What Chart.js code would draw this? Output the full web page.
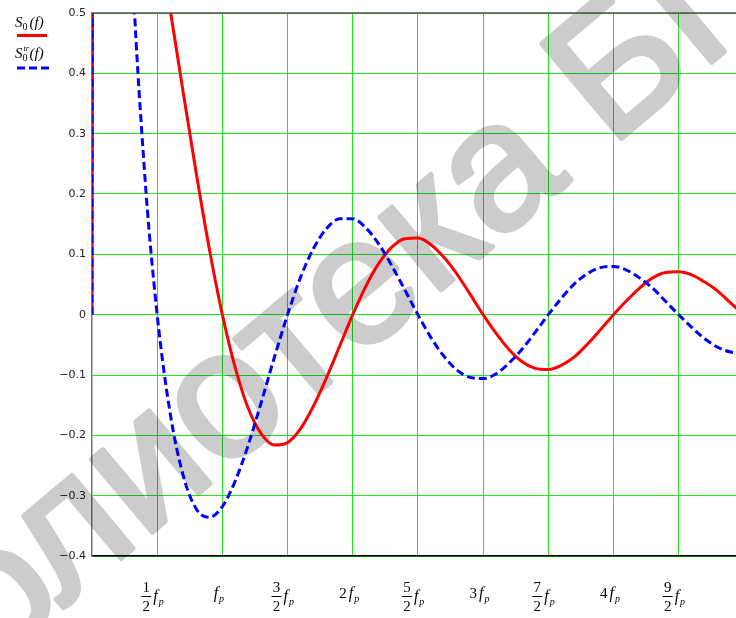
<!DOCTYPE html>
<html>
<head>
<meta charset="utf-8">
<script src="https://cdn.jsdelivr.net/npm/chart.js@4"></script>
<style>
  html, body { margin: 0; padding: 0; background: #fff; overflow: hidden; }
  canvas { display: block; }
</style>
</head>
<body>
<canvas id="mycanvas" width="736" height="618"></canvas>
<script>
// frequency in units of fp
var freq = [0, 0.01, 0.1, 0.2, 0.3, 0.4, 0.5, 0.6, 0.7, 0.8, 0.9,
  1.0, 1.1, 1.2, 1.3, 1.4, 1.5, 1.6, 1.7, 1.8, 1.9,
  2.0, 2.1, 2.2, 2.3, 2.4, 2.5, 2.6, 2.7, 2.8, 2.9,
  3.0, 3.1, 3.2, 3.3, 3.4, 3.5, 3.6, 3.7, 3.8, 3.9,
  4.0, 4.1, 4.2, 4.3, 4.4, 4.5, 4.6, 4.7, 4.8, 4.9, 5.0];

// S0(f), red solid
var s0 = [0, 1.0, 0.984, 0.935, 0.858, 0.757, 0.637, 0.505, 0.368, 0.234, 0.109,
  0, -0.089, -0.156, -0.198, -0.216, -0.212, -0.189, -0.151, -0.104, -0.052,
  0, 0.047, 0.085, 0.112, 0.126, 0.127, 0.116, 0.095, 0.067, 0.034,
  0, -0.031, -0.058, -0.078, -0.089, -0.091, -0.084, -0.070, -0.049, -0.025,
  0, 0.023, 0.044, 0.061, 0.070, 0.071, 0.066, 0.054, 0.039, 0.019, 0];

// S0tr(f), blue dashed
var s0tr = [0, 30, 3.03, 1.288, 0.624, 0.246, 0, -0.164, -0.267, -0.322, -0.336,
  -0.318, -0.275, -0.215, -0.144, -0.070, 0, 0.062, 0.110, 0.143, 0.159,
  0.159, 0.144, 0.117, 0.081, 0.041, 0, -0.038, -0.069, -0.092, -0.104,
  -0.106, -0.098, -0.080, -0.057, -0.029, 0, 0.027, 0.051, 0.068, 0.078,
  0.080, 0.074, 0.061, 0.044, 0.022, 0, -0.021, -0.040, -0.054, -0.062, -0.064];

// x tick labels: numerator / denominator / integer coefficient, then f_p
var xTickPos = [0.5, 1, 1.5, 2, 2.5, 3, 3.5, 4, 4.5];
var xTickNum = ['1', '', '3', '', '5', '', '7', '', '9'];
var xTickDen = ['2', '', '2', '', '2', '', '2', '', '2'];
var xTickCoef = ['', '', '', '2', '', '3', '', '4', ''];

var gridGreen = '#1ee61e';

function fpWidth(ctx) {
  ctx.font = 'italic 16px "Liberation Serif"';
  var w = ctx.measureText('f').width;
  return w + 7;
}

function drawFp(ctx, x, y) {
  ctx.textAlign = 'left';
  ctx.font = 'italic 16px "Liberation Serif"';
  ctx.fillText('f', x, y);
  var w = ctx.measureText('f').width;
  ctx.font = 'italic 10px "Liberation Serif"';
  ctx.fillText('p', x + w + 1, y + 4);
}

function drawS(ctx, x, y, sup) {
  ctx.fillStyle = '#000';
  ctx.textAlign = 'left';
  ctx.font = 'italic 15px "Liberation Serif"';
  ctx.fillText('S', x, y);
  var cx = x + ctx.measureText('S').width;
  ctx.font = '10px "Liberation Serif"';
  ctx.fillText('0', cx, y + 3);
  if (sup) {
    ctx.font = 'italic 8px "Liberation Serif"';
    ctx.fillText(sup, cx + 1, y - 7);
  }
  cx += 7;
  ctx.font = 'italic 15px "Liberation Serif"';
  ctx.fillText('(f)', cx, y);
}

var decor = {
  id: 'decor',
  beforeDatasetsDraw: function(chart) {
    var ctx = chart.ctx;
    // watermark, drawn solid off screen then laid over with alpha
    var off = document.createElement('canvas');
    off.width = chart.width;
    off.height = chart.height;
    var o = off.getContext('2d');
    o.font = '180px "Liberation Sans"';
    o.fillStyle = '#000';
    o.strokeStyle = '#000';
    o.lineWidth = 5;
    o.lineJoin = 'round';
    o.translate(610, 148);
    o.rotate(-40 * Math.PI / 180);
    var txt = 'Библиотека БГУИР';
    var dx = -o.measureText('Библиотека ').width;
    o.fillText(txt, dx, 0);
    o.strokeText(txt, dx, 0);
    ctx.save();
    ctx.globalAlpha = 0.2;
    ctx.drawImage(off, 0, 0);
    ctx.restore();
  },
  afterDraw: function(chart) {
    var ctx = chart.ctx;
    var area = chart.chartArea;
    var xs = chart.scales.x;
    ctx.save();
    // top frame line
    ctx.strokeStyle = '#555';
    ctx.lineWidth = 1.5;
    ctx.beginPath();
    ctx.moveTo(area.left, area.top);
    ctx.lineTo(area.right, area.top);
    ctx.stroke();

    // x labels
    ctx.fillStyle = '#000';
    ctx.textBaseline = 'alphabetic';
    for (var i = 0; i < xTickPos.length; i++) {
      var px = xs.getPixelForValue(xTickPos[i]);
      if (xTickNum[i]) {
        var fx = px - 11;
        ctx.font = '15px "Liberation Serif"';
        ctx.textAlign = 'center';
        ctx.fillText(xTickNum[i], fx, 592);
        ctx.fillText(xTickDen[i], fx, 611);
        ctx.strokeStyle = '#000';
        ctx.lineWidth = 1;
        ctx.beginPath();
        ctx.moveTo(fx - 5, 596.5);
        ctx.lineTo(fx + 5, 596.5);
        ctx.stroke();
        drawFp(ctx, px - 4, 601);
      } else {
        ctx.font = '15px "Liberation Serif"';
        var cw = xTickCoef[i] ? ctx.measureText(xTickCoef[i]).width + 2 : 0;
        var total = cw + fpWidth(ctx);
        var sx = px - total / 2 - 3;
        if (xTickCoef[i]) {
          ctx.font = '15px "Liberation Serif"';
          ctx.textAlign = 'left';
          ctx.fillText(xTickCoef[i], sx, 598);
        }
        drawFp(ctx, sx + cw, 598);
      }
    }

    // legend
    drawS(ctx, 15, 27, '');
    ctx.strokeStyle = '#ff0000';
    ctx.lineWidth = 3;
    ctx.setLineDash([]);
    ctx.beginPath();
    ctx.moveTo(17, 35.5);
    ctx.lineTo(47, 35.5);
    ctx.stroke();

    drawS(ctx, 15, 58, 'tr');
    ctx.strokeStyle = '#0000ff';
    ctx.setLineDash([8, 4]);
    ctx.beginPath();
    ctx.moveTo(17, 68);
    ctx.lineTo(49, 68);
    ctx.stroke();
    ctx.restore();
  }
};

var ctx = document.getElementById('mycanvas').getContext('2d');

var chart = new Chart(ctx, {
  type: 'line',
  data: {
    datasets: [
      {
        label: 'S0(f)',
        data: freq.map(function(f, i) { return { x: f, y: s0[i] }; }),
        borderColor: '#ff0000',
        borderWidth: 3,
        pointRadius: 0,
        cubicInterpolationMode: 'monotone',
        fill: false,
        order: 2
      },
      {
        label: 'S0tr(f)',
        data: freq.map(function(f, i) { return { x: f, y: s0tr[i] }; }),
        borderColor: '#0000ff',
        borderWidth: 3,
        borderDash: [8, 4],
        pointRadius: 0,
        cubicInterpolationMode: 'monotone',
        fill: false,
        order: 1
      }
    ]
  },
  options: {
    responsive: false,
    animation: false,
    devicePixelRatio: 1,
    layout: { padding: { top: 13, right: 0, bottom: 0, left: 0 } },
    plugins: {
      legend: { display: false },
      tooltip: { enabled: false }
    },
    scales: {
      x: {
        type: 'linear',
        min: 0,
        max: 4.94,
        ticks: { display: false, stepSize: 0.5, includeBounds: false },
        grid: {
          color: function(c) { return c.tick && c.tick.value === 0 ? 'rgba(0,0,0,0)' : gridGreen; },
          lineWidth: 1,
          drawTicks: false
        },
        border: { color: '#000', width: 1.5 },
        afterFit: function(s) { s.height = 62; }
      },
      y: {
        min: -0.4,
        max: 0.5,
        ticks: {
          stepSize: 0.1,
          padding: 6,
          color: '#222',
          font: { family: 'DejaVu Sans', size: 11 },
          callback: function(v) {
            if (Math.abs(v) < 1e-9) return '0';
            var s = Math.abs(v).toFixed(1);
            return v < 0 ? '\u2212' + s : s;
          }
        },
        grid: { color: gridGreen, lineWidth: 1, drawTicks: false },
        border: { color: '#777', width: 1.5 },
        afterFit: function(s) { s.width = 92; }
      }
    }
  },
  plugins: [decor]
});
</script>
</body>
</html>
